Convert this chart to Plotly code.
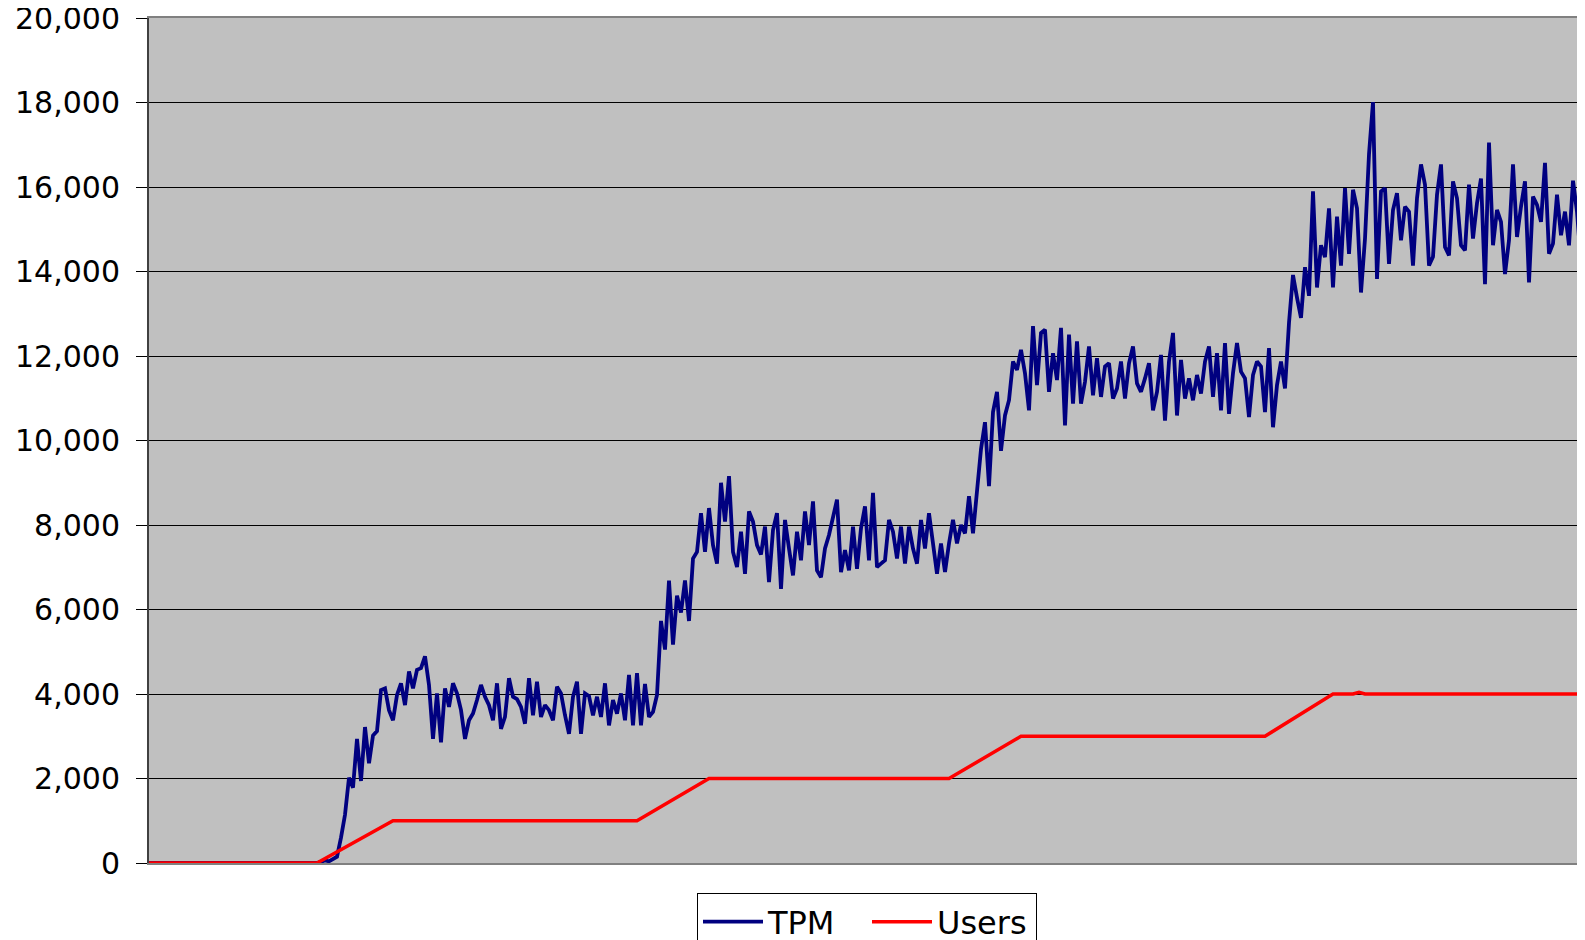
import plotly.graph_objects as go

# ---- data ----
tpm_ramp_up = [0] * 43 + [30, 60, 40, 90, 150, 600]
tpm_rise_1 = [1143, 2021, 1782, 2938, 1942, 3217, 2360, 3018, 3121, 4095]
tpm_level_1 = [4133, 3617, 3378, 3976, 4253, 3736, 4533, 4133, 4573, 4612, 4892, 4215, 2938, 4014,
               2858, 4133, 3696, 4253, 4014, 3617, 2938, 3378, 3536, 3856, 4215, 3935, 3736, 3378,
               4253, 3177, 3457, 4373, 3935, 3880, 3696, 3297, 4373, 3497, 4293, 3457, 3736, 3617,
               3378, 4174, 4014, 3497, 3058, 3935, 4293, 3058, 4014, 3950, 3497, 3935, 3457, 4253,
               3257, 3856, 3536, 4014, 3378, 4453, 3257, 4493, 3257, 4238, 3457, 3576, 3976]
tpm_rise_2 = [5729, 5052, 6686, 5171, 6327, 5928, 6686, 5729, 7205]
tpm_level_2 = [7364, 8281, 7364, 8401, 7524, 7085, 8999, 8081, 9157, 7364, 7005, 7842, 6846, 8321,
               8081, 7524, 7300, 7962, 6646, 7882, 8281, 6486, 8121, 7444, 6806, 7842, 7165, 8321,
               7524, 8560, 6925, 6765, 7444, 7763, 8201, 8600, 6885, 7404, 6925, 7962, 6965, 7922,
               8440, 7165, 8760, 7005, 7085, 7165, 8121, 7842, 7205, 7962, 7085, 7962, 7444, 7085,
               8121, 7444, 8281, 7524, 6846, 7564, 6885, 7564, 8121, 7564, 8001, 7803, 8680]
tpm_rise_3 = [7803, 8799, 9796, 10434, 8919, 10673, 11152, 9756, 10594, 10952, 11870, 11670,
              12147, 11590, 10712]
tpm_level_3 = [12706, 11311, 12546, 12625, 11152, 12067, 11430, 12666, 10354, 12506, 10872, 12347,
               10872, 11391, 12227, 11071, 11948, 11032, 11749, 11829, 10991, 11231, 11869, 10991,
               11829, 12227, 11351, 11152, 11470, 11829, 10712, 11152, 12027, 10473, 11869, 12546,
               10592, 11909, 10991, 11470, 10951, 11550, 11111, 11869, 12227, 11032, 12067, 10712,
               12307, 10632, 11590, 12307, 11630, 11470, 10553, 11550, 11869, 11749, 10672, 12187,
               10314, 11311, 11869, 11231]
tpm_rise_4 = [12786, 13917, 13383, 12905, 14101, 13424, 15895, 13622, 14620, 14340, 15496, 13622]
tpm_level_4 = [15297, 14141, 15974, 14420, 15935, 15496, 13503, 14778, 16773, 18008, 13822, 15895,
               15974, 14180, 15457, 15856, 14739, 15536, 15416, 14141, 15735, 16534, 16055, 14141,
               14350, 15816, 16534, 14580, 14381, 16134, 15735, 14620, 14500, 16055, 14778, 15616,
               16198, 13702, 17050, 14620, 15457, 15177, 13941, 14739, 16534, 14819, 15536, 16134,
               13742, 15775, 15576, 15177, 16573, 14420, 14659, 15816, 14859, 15416, 14620, 16150,
               15416, 14180, 15536]

tpm = (tpm_ramp_up + tpm_rise_1 + tpm_level_1 + tpm_rise_2 + tpm_level_2 + tpm_rise_3
       + tpm_level_3 + tpm_rise_4 + tpm_level_4)
sample = list(range(len(tpm)))

users_sample = [0, 42, 61, 122, 140, 200, 218, 279, 296, 301, 302.5, 304, 359]
users_value = [0, 0, 1000, 1000, 2000, 2000, 3000, 3000, 4000, 4000, 4040, 4000, 4000]

y_ticks = [0, 2000, 4000, 6000, 8000, 10000, 12000, 14000, 16000, 18000, 20000]

FONT = "DejaVu Sans"

fig = go.Figure()
fig.add_trace(go.Scatter(x=sample, y=tpm, mode="lines", name="TPM",
                         line=dict(color="#000080", width=3.8)))
fig.add_trace(go.Scatter(x=users_sample, y=users_value, mode="lines", name="Users",
                         line=dict(color="#FF0000", width=3.5)))

# the page body adds an 8px offset, so the figure is sized to end at the window edge
fig.update_layout(
    width=1577, height=932,
    margin=dict(l=141, r=0, t=10, b=77, autoexpand=False),
    paper_bgcolor="white",
    plot_bgcolor="#C0C0C0",
    font=dict(family=FONT, color="black"),
    showlegend=True,
    legend=dict(orientation="h", x=0.5, xanchor="center", y=-0.036, yanchor="top",
                bgcolor="white", bordercolor="#000000", borderwidth=1,
                font=dict(family=FONT, size=32, color="black"),
                itemwidth=60, entrywidth=94, traceorder="normal"),
)
fig.update_xaxes(range=[0, len(tpm) - 1], showticklabels=False, ticks="",
                 showgrid=False, zeroline=False, automargin=False,
                 showline=True, linecolor="#808080", linewidth=2, mirror=True)
fig.update_yaxes(range=[0, 20000], tickvals=y_ticks, tickformat=",",
                 tickfont=dict(family=FONT, size=30, color="black"),
                 ticks="outside", ticklen=11, tickcolor="#000000", tickwidth=1,
                 ticklabelstandoff=10, ticklabeloverflow="allow", automargin=False,
                 showgrid=True, gridcolor="#000000", gridwidth=1, zeroline=False,
                 showline=True, linecolor="#404040", linewidth=2)

fig.write_html("out.html")
